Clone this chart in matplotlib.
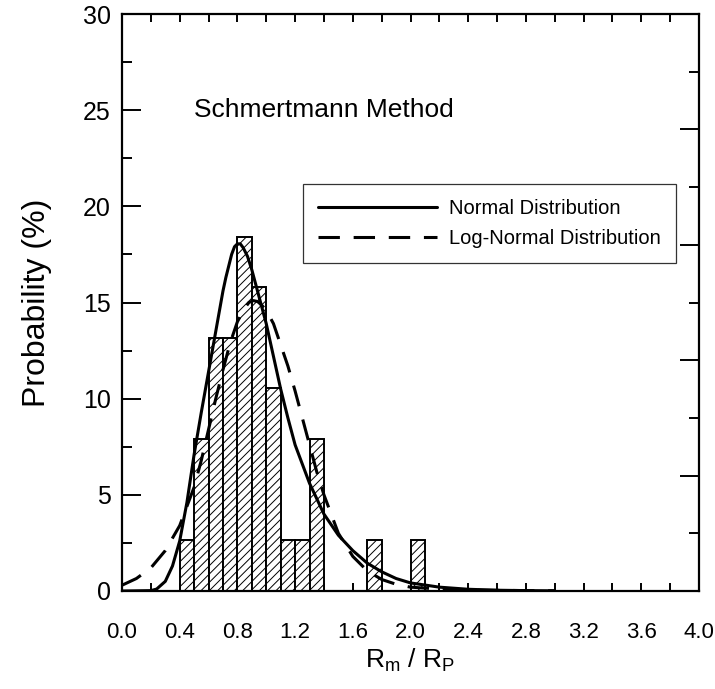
import matplotlib
matplotlib.use('Agg')
import matplotlib.pyplot as plt
from matplotlib.ticker import MultipleLocator, NullFormatter

# histogram: left edge of each 0.1-wide bin and its probability (%)
bin_left = [0.4, 0.5, 0.6, 0.7, 0.8, 0.9, 1.0, 1.1, 1.2, 1.3, 1.7, 2.0]
prob = [2.63, 7.89, 13.16, 13.16, 18.42, 15.79, 10.53, 2.63, 2.63, 7.89, 2.63, 2.63]

# fitted curves
normal_x = [0.0, 0.2, 0.24, 0.3, 0.35, 0.4, 0.45, 0.5, 0.55, 0.6, 0.65, 0.7, 0.72,
            0.76, 0.78, 0.8, 0.82, 0.84, 0.87, 0.9, 0.95, 1.0, 1.05, 1.1, 1.15,
            1.2, 1.3, 1.4, 1.5, 1.6, 1.7, 1.8, 1.9, 2.0, 2.2, 2.4, 2.6, 2.8, 3.0]
normal_y = [0.0, 0.02, 0.1, 0.5, 1.3, 2.6, 4.6, 7.1, 9.3, 11.4, 13.5, 15.6, 16.3,
            17.5, 17.9, 18.05, 18.05, 17.85, 17.4, 16.7, 15.3, 13.9, 12.2, 10.5, 9.0,
            7.6, 5.6, 4.0, 2.9, 2.1, 1.45, 1.0, 0.65, 0.42, 0.2, 0.09, 0.04, 0.02, 0.01]

lognorm_x = [0.0, 0.1, 0.2, 0.3, 0.4, 0.5, 0.55, 0.6, 0.65, 0.7, 0.75, 0.8, 0.85,
             0.88, 0.91, 0.94, 0.97, 1.0, 1.05, 1.1, 1.15, 1.2, 1.25, 1.3, 1.35,
             1.4, 1.5, 1.6, 1.7, 1.8, 1.9, 2.0, 2.2, 2.5, 3.0]
lognorm_y = [0.3, 0.65, 1.2, 2.1, 3.4, 5.4, 6.8, 8.4, 10.0, 11.5, 12.9, 14.0, 14.7,
             15.0, 15.1, 15.05, 14.85, 14.6, 13.9, 12.8, 11.7, 10.4, 9.0, 7.6, 6.2,
             5.0, 3.0, 1.8, 1.05, 0.6, 0.35, 0.2, 0.1, 0.04, 0.01]

x_ticks = [0.0, 0.4, 0.8, 1.2, 1.6, 2.0, 2.4, 2.8, 3.2, 3.6, 4.0]
y_ticks = [0, 5, 10, 15, 20, 25, 30]

plt.rcParams['font.family'] = ['Liberation Sans', 'DejaVu Sans']
plt.rcParams['hatch.linewidth'] = 0.7
plt.rcParams['mathtext.fontset'] = 'custom'
plt.rcParams['mathtext.rm'] = 'Liberation Sans'

fig = plt.figure(figsize=(7.15, 6.89), dpi=100)
ax = fig.add_axes([122 / 715, 1 - 591 / 689, 577 / 715, 577 / 689])

ax.bar(bin_left, prob, width=0.1, align='edge', facecolor='white',
       edgecolor='black', linewidth=1.4, hatch='////', zorder=2)
ax.plot(normal_x, normal_y, color='black', lw=2.2, zorder=3,
        solid_capstyle='round', label='Normal Distribution')
ax.plot(lognorm_x, lognorm_y, color='black', lw=2.2, dashes=(7, 4.5), zorder=3,
        label='Log-Normal Distribution')

ax.set_xlim(0, 4)
ax.set_ylim(0, 30)
ax.set_xticks(x_ticks)
ax.set_xticklabels([f'{v:.1f}' for v in x_ticks], fontsize=16)
ax.xaxis.set_minor_locator(MultipleLocator(0.2))
ax.set_yticks(y_ticks)
ax.set_yticklabels([str(v) for v in y_ticks], fontsize=18)
ax.yaxis.set_minor_locator(MultipleLocator(2.5))

ax.tick_params(axis='x', which='both', direction='in', top=True, length=6,
               width=1.4, pad=22)
ax.tick_params(axis='y', which='major', direction='in', length=14, width=1.4, pad=8)
ax.tick_params(axis='y', which='minor', direction='in', length=7, width=1.4)
for s in ax.spines.values():
    s.set_linewidth(1.6)

# right axis has its own tick spacing
ax2 = ax.twinx()
ax2.set_ylim(0, 30)
ax2.yaxis.set_major_locator(MultipleLocator(6))
ax2.yaxis.set_minor_locator(MultipleLocator(3))
ax2.yaxis.set_major_formatter(NullFormatter())
ax2.tick_params(axis='y', which='major', direction='in', length=14, width=1.4)
ax2.tick_params(axis='y', which='minor', direction='in', length=7, width=1.4)
for s in ax2.spines.values():
    s.set_visible(False)

ax.set_xlabel(r'R$_\mathregular{m}$ / R$_\mathregular{P}$', fontsize=19, labelpad=3)
ax.set_ylabel('Probability (%)', fontsize=23, labelpad=22)

ax.text(0.5, 25, 'Schmertmann Method', fontsize=19, ha='left', va='center')

leg = ax.legend(loc='upper left', bbox_to_anchor=(0.3137, 0.7054),
                borderaxespad=0, fancybox=False, edgecolor='black',
                handlelength=5.9, handletextpad=0.6, borderpad=0.75,
                labelspacing=0.55, prop={'size': 14.5})
leg.get_frame().set_linewidth(0.9)
leg.set_zorder(5)

fig.savefig('out.png', dpi=100)
